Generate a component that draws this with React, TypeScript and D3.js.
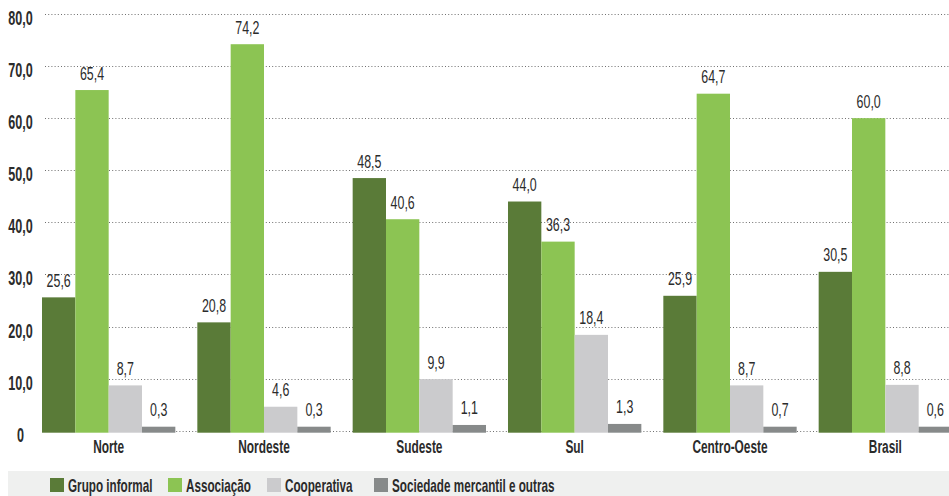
import React from "react";
import * as d3 from "d3";

const categories = ["Norte", "Nordeste", "Sudeste", "Sul", "Centro-Oeste", "Brasil"];
const seriesNames = ["Grupo informal", "Associação", "Cooperativa", "Sociedade mercantil e outras"];
const grupoInformal = [25.6, 20.8, 48.5, 44.0, 25.9, 30.5];
const associacao = [65.4, 74.2, 40.6, 36.3, 64.7, 60.0];
const cooperativa = [8.7, 4.6, 9.9, 18.4, 8.7, 8.8];
const sociedade = [0.3, 0.3, 1.1, 1.3, 0.7, 0.6];
const yTicks = [0, 10, 20, 30, 40, 50, 60, 70, 80];
const colors = ["#5a7b38", "#8cc453", "#cbcbcd", "#878a8a"];

const series = [grupoInformal, associacao, cooperativa, sociedade];
const W = 949;
const H = 496;
const FONT = "'Liberation Sans', Arial, sans-serif";
const TEXT = "#2b2b2b";

const fmt = (v: number) => (v === 0 ? "0" : v.toFixed(1).replace(".", ","));

function CText({ x, y, size, weight, sx, anchor, children, fill }: any) {
  return (
    <text
      transform={`translate(${x},${y}) scale(${sx},1)`}
      fontFamily={FONT}
      fontSize={size}
      fontWeight={weight}
      textAnchor={anchor}
      fill={fill || TEXT}
    >
      {children}
    </text>
  );
}

export default function App() {
  const x0 = d3.scaleBand<string>().domain(categories).range([42, 952]).paddingInner(0.1416).paddingOuter(0);
  const x1 = d3.scaleBand<number>().domain(d3.range(series.length)).range([0, x0.bandwidth()]).padding(0);
  const y = d3.scaleLinear().domain([0, 80]).range([430.7, 14]);
  const base = y(0) + 2;

  const legendX = [50, 168, 267, 374];

  return (
    <svg width={W} height={H} style={{ position: "absolute", left: 0, top: 0, background: "#fff" }}>
      {/* gridlines */}
      {yTicks.map((t) => (
        <line
          key={"g" + t}
          x1={45}
          x2={W}
          y1={Math.round(y(t)) + 0.5}
          y2={Math.round(y(t)) + 0.5}
          stroke="#6f6f6f"
          strokeWidth={1}
          strokeDasharray="1,2.2"
        />
      ))}
      {/* y labels */}
      {yTicks.map((t) => (
        <CText key={"yl" + t} x={20.5} y={y(t) + 11} size={21} weight="bold" sx={0.6} anchor="middle">
          {fmt(t)}
        </CText>
      ))}
      {/* bars */}
      {categories.map((c, ci) => (
        <g key={c} transform={`translate(${x0(c)},0)`}>
          {series.map((s, si) => {
            const v = s[ci];
            const top = Math.min(y(v), base - 6);
            return (
              <g key={si}>
                <rect x={x1(si)} y={top} width={x1.bandwidth()} height={base - top} fill={colors[si]} />
                <CText
                  x={(x1(si) as number) + x1.bandwidth() / 2}
                  y={top - 10.5}
                  size={18}
                  weight="normal"
                  sx={0.69}
                  anchor="middle"
                >
                  {fmt(v)}
                </CText>
              </g>
            );
          })}
          <CText x={x0.bandwidth() / 2} y={453} size={18} weight="bold" sx={0.66} anchor="middle">
            {c}
          </CText>
        </g>
      ))}
      {/* legend */}
      <rect x={8} y={471} width={W - 8} height={H - 471} fill="#eff0ef" />
      {seriesNames.map((n, i) => (
        <g key={n}>
          <rect x={legendX[i]} y={478} width={14} height={14} fill={colors[i]} />
          <CText x={legendX[i] + 18} y={492} size={18} weight="bold" sx={0.65} anchor="start">
            {n}
          </CText>
        </g>
      ))}
    </svg>
  );
}
